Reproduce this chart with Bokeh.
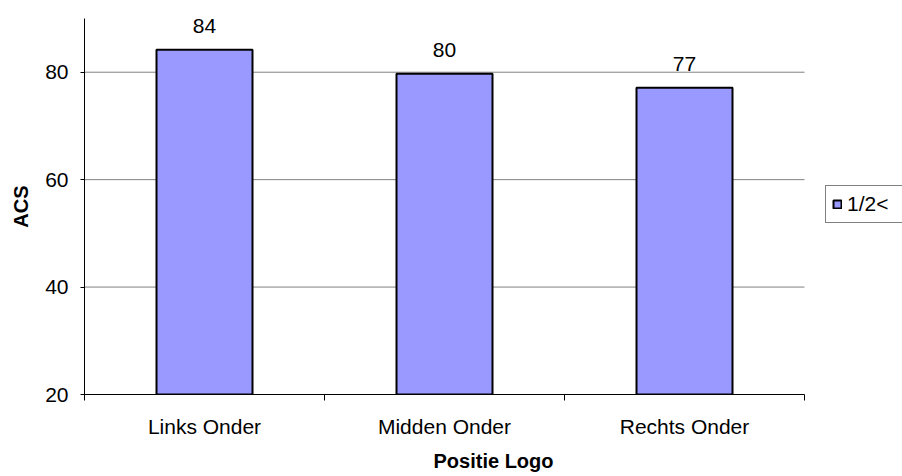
from bokeh.plotting import figure
from bokeh.models import (Range1d, FixedTicker, CustomJSTickFormatter, Legend,
                          LegendItem, ColumnDataSource)
from bokeh.core.properties import value
from bokeh.embed import file_html
from bokeh.resources import INLINE

# Data
categories = ["Links Onder", "Midden Onder", "Rechts Onder"]
acs_values = [84.2, 79.7, 77.1]
series_name = "1/2<"
y_ticks = [20, 40, 60, 80]

FONT = "Liberation Sans"

n = len(categories)
xs = [i + 0.5 for i in range(n)]
boundaries = list(range(n + 1))
labels = [f"{v:.0f}" for v in acs_values]

# The frame runs to the right edge so the legend can sit beside the bars;
# the category area itself spans 720 of the 818 frame pixels.
FRAME_W = 818
CAT_W = 720
x_end = n * FRAME_W / CAT_W

src = ColumnDataSource(dict(x=xs, top=acs_values, label=labels))

p = figure(width=902, height=476, output_backend="svg", toolbar_location=None,
           x_range=Range1d(0, x_end), y_range=Range1d(20, 90),
           min_border_left=84, min_border_right=0, min_border_top=18,
           min_border_bottom=82)
p.outline_line_color = None
p.background_fill_color = "white"
p.border_fill_color = "white"
p.xgrid.grid_line_color = None
p.ygrid.grid_line_color = None

# Horizontal gridlines limited to the category area
p.segment(x0=0, x1=n, y0=y_ticks[1:], y1=y_ticks[1:],
          line_color="#808080", line_width=1)

bars = p.vbar(x="x", top="top", bottom=20, width=0.4, source=src,
              fill_color="#9999FF", line_color="black", line_width=2)

p.text(x="x", y="top", text="label", source=src, text_align="center",
       text_baseline="middle", y_offset=-24, text_font=value(FONT),
       text_font_size="21px", text_color="black")

# Y axis
p.yaxis.ticker = FixedTicker(ticks=y_ticks)
p.yaxis.axis_label = "ACS"
p.yaxis.axis_label_text_font = FONT
p.yaxis.axis_label_text_font_style = "bold"
p.yaxis.axis_label_text_font_size = "20px"
p.yaxis.axis_label_text_color = "black"
p.yaxis.axis_label_standoff = 10
p.yaxis.major_label_text_font = FONT
p.yaxis.major_label_text_font_size = "21px"
p.yaxis.major_label_text_color = "black"
p.yaxis.major_label_standoff = 12
p.yaxis.major_tick_in = 0
p.yaxis.major_tick_out = 4
p.yaxis.minor_tick_line_color = None
p.yaxis.axis_line_color = "black"
p.yaxis.major_tick_line_color = "black"

# X axis: labels at category centres, tick marks at category boundaries
p.xaxis.ticker = FixedTicker(ticks=xs, minor_ticks=boundaries)
p.xaxis.bounds = (0, n)
p.xaxis.formatter = CustomJSTickFormatter(
    args=dict(names=categories),
    code="const i = Math.floor(tick); return (i >= 0 && i < names.length) ? names[i] : '';")
p.xaxis.axis_label = "Positie Logo"
p.xaxis.axis_label_text_font = FONT
p.xaxis.axis_label_text_font_style = "bold"
p.xaxis.axis_label_text_font_size = "20px"
p.xaxis.axis_label_text_color = "black"
p.xaxis.axis_label_standoff = 9
p.xaxis.major_label_text_font = FONT
p.xaxis.major_label_text_font_size = "21px"
p.xaxis.major_label_text_color = "black"
p.xaxis.major_label_standoff = 14
p.xaxis.major_tick_in = 0
p.xaxis.major_tick_out = 0
p.xaxis.minor_tick_in = 0
p.xaxis.minor_tick_out = 6
p.xaxis.minor_tick_line_color = "black"
p.xaxis.axis_line_color = "black"

# Legend to the right of the bars (location in frame pixels)
legend = Legend(items=[LegendItem(label=series_name, renderers=[bars])],
                location=(741, 171), orientation="vertical")
legend.glyph_width = 10
legend.glyph_height = 10
legend.padding = 6
legend.spacing = 0
legend.margin = 0
legend.label_standoff = 5
legend.label_width = 64
legend.label_text_font = FONT
legend.label_text_font_size = "21px"
legend.label_text_color = "black"
legend.label_height = 18
legend.border_line_color = "black"
legend.border_line_width = 1
legend.background_fill_color = "white"
p.add_layout(legend)

open("out.html", "w").write(file_html(p, INLINE))
